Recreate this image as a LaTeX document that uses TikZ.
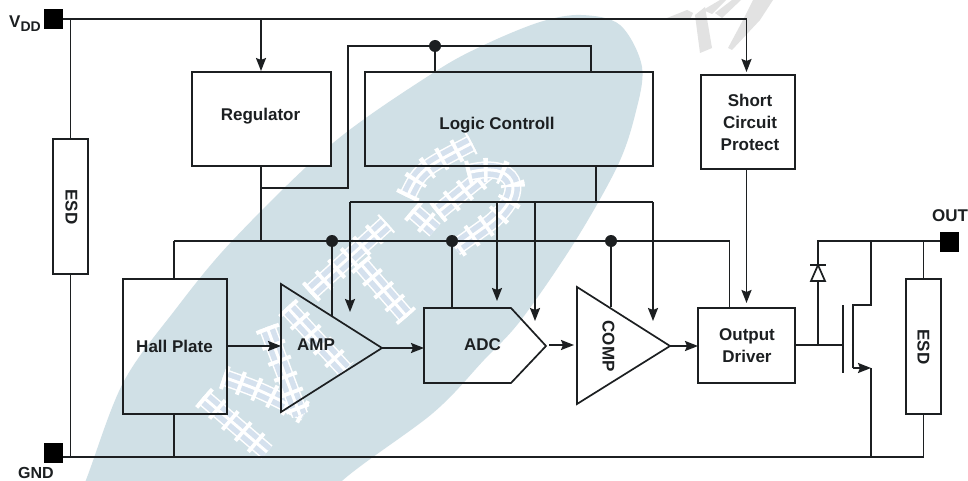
\documentclass[tikz,border=0pt]{standalone}
\usepackage{fontspec}
\setmainfont{Liberation Sans}
\usetikzlibrary{arrows.meta}
\definecolor{ink}{HTML}{1C1F21}
\definecolor{blobc}{HTML}{D0E0E6}
\definecolor{cellc}{HTML}{D5E1EE}
\definecolor{grayw}{HTML}{E2E2E2}
\tikzset{
  wire/.style={draw=ink,line width=1.9pt},
  thin wire/.style={draw=ink,line width=1.7pt},
  arr/.style={-{Stealth[length=13pt,width=10pt,inset=2pt]}},
  boxn/.style={draw=ink,line width=1.9pt,inner sep=0pt,outer sep=0pt,rectangle},
  padn/.style={fill=black,inner sep=0pt,outer sep=0pt,minimum width=19pt,minimum height=20pt},
  txt/.style={font=\bfseries\fontsize{17}{22}\selectfont,text=ink,inner sep=0pt,align=center},
  dotn/.style={circle,fill=ink,inner sep=0pt,minimum size=12pt},
  wm/.style={line width=17pt,draw=white,
    preaction={draw=white,line width=24pt,dash pattern=on 4pt off 13pt},
    postaction={draw=cellc,line width=14pt,dash pattern=on 13pt off 4pt,dash phase=13pt},
    postaction={draw=white,line width=3pt}},
}
\begin{document}
\begin{tikzpicture}[x=1pt,y=-1pt]
\useasboundingbox (0,0) rectangle (968,481);
\fill[white] (0,0) rectangle (968,481);
\begin{scope}
\clip (0,0) rectangle (968,481);
% pale background shape
\fill[blobc] plot[smooth cycle,tension=.55] coordinates {
 (60,545) (86,480) (123,383) (175,310) (233,240) (333,143) (433,73) (484,45)
 (540,22) (581,15) (620,25) (642,67) (635,115) (617,167) (574,243) (521,320)
 (484,360) (433,413) (343,480) (280,545)};
% watermark strokes
\draw[wm] (203,397) -- (267,452);
\draw[wm] (223,377) .. controls (260,390) .. (305,413);
\draw[wm] (267,327) -- (300,415);
\draw[wm] (287,307) -- (345,370);
\draw[wm] (310,293) -- (387,223);
\draw[wm] (360,263) -- (407,317);
\draw[wm] (407,197) .. controls (420,170) .. (472,143);
\draw[wm] (412,210) -- (435,230);
\draw[wm] (437,213) -- (490,170);
\draw[wm] (467,173) .. controls (515,160) and (530,190) .. (490,223) -- (455,248);
% grey watermark
\fill[grayw] (667,18) -- (687,10) -- (693,13) -- (690,20) -- cycle;
\fill[grayw] (695,15) -- (705,7) -- (712,48) -- (700,53) -- cycle;
\fill[grayw] (703,10) -- (720,0) -- (726,0) -- (712,14) -- cycle;
\fill[grayw] (715,13) -- (732,0) -- (741,0) -- (722,18) -- cycle;
\fill[grayw] (728,48) -- (743,20) -- (753,0) -- (773,0) -- (760,20) -- (732,50) -- cycle;
\end{scope}
% blocks
\node[boxn,fill=white,minimum width=139pt,minimum height=94pt] (reg) at (261.5,119) {};
\node[boxn,minimum width=288pt,minimum height=94pt] (logic) at (509,119) {};
\node[boxn,fill=white,minimum width=94pt,minimum height=94pt] (short) at (748,122) {};
\node[boxn,minimum width=104pt,minimum height=135pt] (hall) at (175,346.5) {};
\node[boxn,fill=white,minimum width=97pt,minimum height=75pt] (drv) at (746.5,345.5) {};
\node[boxn,fill=white,minimum width=35pt,minimum height=135pt] (esdl) at (70.5,206.5) {};
\node[boxn,fill=white,minimum width=35pt,minimum height=135pt] (esdr) at (923.5,346.5) {};
\node[padn] (vdd) at (53.5,19) {};
\node[padn] (gnd) at (53.5,453) {};
\node[padn] (out) at (949,242) {};
% triangles and ADC
\coordinate (ampA) at (281,284); \coordinate (ampB) at (281,412); \coordinate (ampC) at (382,348);
\coordinate (compA) at (577,287); \coordinate (compB) at (577,404); \coordinate (compC) at (670,346);
\coordinate (adcA) at (424,308); \coordinate (adcB) at (511,308); \coordinate (adcC) at (546,346);
\coordinate (adcD) at (511,383); \coordinate (adcE) at (424,383);
\draw[thin wire,line join=miter] (ampA) -- (ampB) -- (ampC) -- cycle;
\draw[thin wire] (compA) -- (compB) -- (compC) -- cycle;
\draw[thin wire] (adcA) -- (adcB) -- (adcC) -- (adcD) -- (adcE) -- cycle;
% junctions
\node[dotn] (d1) at (435,46) {};
\node[dotn] (d2) at (332,241) {};
\node[dotn] (d3) at (452,241) {};
\node[dotn] (d4) at (611,241) {};
\coordinate (vddT) at (204,19);
\coordinate (topR) at (261,19);
\coordinate (topE) at (746.5,19);
\coordinate (shIn) at (746.5,72);
\coordinate (shOut) at (746.5,169);
\coordinate (drvIn) at (746.5,303);
\coordinate (regIn) at (261,71);
\coordinate (regOut) at (261,166);
\coordinate (regJ) at (261,188);
\coordinate (busR) at (261,241);
\coordinate (fbA) at (348,188);
\coordinate (fbB) at (348,46);
\coordinate (fbC) at (591,46);
\coordinate (fbD) at (591,72);
\coordinate (lgIn) at (435,72);
\coordinate (lgOut) at (596,166);
\coordinate (ctlJ) at (596,202);
\coordinate (ctlL) at (350,202);
\coordinate (ctlR) at (653,202);
\coordinate (ctlA) at (350,312);
\coordinate (ctlBt) at (497,202);
\coordinate (ctlB) at (497,301);
\coordinate (ctlCt) at (535,202);
\coordinate (ctlC) at (535,321);
\coordinate (ctlD) at (653,321);
\coordinate (busL) at (174,241);
\coordinate (busE) at (729.5,241);
\coordinate (busD) at (729.5,308);
\coordinate (hallT) at (174,279);
\coordinate (hallB) at (174,414);
\coordinate (hallG) at (174,457);
\coordinate (ampP) at (332,316);
\coordinate (adcP) at (452,308);
\coordinate (compP) at (611,307);
\coordinate (hallO) at (227,346);
\coordinate (ampI) at (281,346);
\coordinate (adcI) at (424,348);
\coordinate (a2cA) at (549,345);
\coordinate (a2cB) at (574,345);
\coordinate (cmpI) at (698,346);
\coordinate (gVdd) at (70.5,19);
\coordinate (gGnd) at (70.5,457);
\coordinate (gndE) at (923.5,457);
\coordinate (gateL) at (795,345);
\coordinate (gateR) at (843,345);
\coordinate (gateT) at (843,305);
\coordinate (gateB) at (843,373);
\coordinate (chT) at (853,305);
\coordinate (chB) at (853,368);
\coordinate (drn) at (871,305);
\coordinate (srcT) at (871,368);
\coordinate (srcG) at (871,457);
\coordinate (drnT) at (871,241);
\coordinate (dioJ) at (818,345);
\coordinate (dioB) at (818,281);
\coordinate (dioA) at (818,265);
\coordinate (dioT) at (818,241);
\coordinate (outT) at (923.5,241);
% power lines
\draw[wire,line width=2.4pt] (vdd.east |- gVdd) -- (vddT);
\draw[thin wire] (vddT) -- (topE);
\draw[thin wire,arr] (topE) -- (shIn);
\draw[wire,arr] (topR) -- (regIn);
\draw[thin wire] (gVdd) -- (esdl.north);
\draw[thin wire] (esdl.south) -- (gGnd);
\draw[wire] (gnd.east |- gGnd) -- (gndE);
% regulator and logic
\draw[wire] (regOut) -- (busR);
\draw[wire,line join=miter] (regJ) -- (fbA) -- (fbB) -- (fbC) -- (fbD);
\draw[wire] (d1) -- (lgIn);
\draw[wire] (lgOut) -- (ctlJ);
\draw[wire] (ctlL) -- (ctlR);
\draw[wire,arr] (ctlL) -- (ctlA);
\draw[wire,arr] (ctlBt) -- (ctlB);
\draw[wire,arr] (ctlCt) -- (ctlC);
\draw[wire,arr] (ctlR) -- (ctlD);
% bias bus
\draw[wire] (busL) -- (busE) -- (busD);
\draw[wire] (busL) -- (hallT);
\draw[wire] (hallB) -- (hallG);
\draw[wire] (d2) -- (ampP);
\draw[thin wire] (d3) -- (adcP);
\draw[thin wire] (d4) -- (compP);
% signal path
\draw[wire,arr] (hallO) -- (ampI);
\draw[wire,arr] (ampC) -- (adcI);
\draw[wire,arr] (a2cA) -- (a2cB);
\draw[wire,arr] (compC) -- (cmpI);
\draw[wire,arr] (shOut) -- (drvIn);
% output stage
\draw[wire] (gateL) -- (gateR);
\draw[thin wire] (gateT) -- (gateB);
\draw[wire] (dioJ) -- (dioB);
\draw[thin wire,fill=white] (dioA) -- ([xshift=7pt]dioB) -- ([xshift=-7pt]dioB) -- cycle;
\draw[thin wire] ([xshift=-8pt]dioA) -- ([xshift=8pt]dioA);
\draw[wire] (dioA) -- (dioT) -- (out.west |- dioT);
\draw[wire,line join=miter] (drnT) -- (drn) -- (chT) -- (chB);
\draw[wire,arr] (chB) -- (srcT);
\draw[thin wire] (srcT) -- (srcG);
\draw[thin wire] (outT) -- (esdr.north);
\draw[thin wire] (esdr.south) -- (gndE);
% labels
\node[txt] (tReg) at (260.5,116) {Regulator};
\node[txt] (tLog) at (497,125.5) {Logic Controll};
\node[txt] (tSh) at (750,122) {Short\\Circuit\\Protect};
\node[txt] (tHall) at (174.5,346) {Hall Plate};
\node[txt] (tAmp) at (316,344.5) {AMP};
\node[txt] (tAdc) at (482.5,345) {ADC};
\node[txt,rotate=-90] (tComp) at (608.5,346) {COMP};
\node[txt] (tDrv) at (747,345.5) {Output\\Driver};
\node[txt,rotate=-90] (tE1) at (71.5,207) {ESD};
\node[txt,rotate=-90] (tE2) at (923.5,347) {ESD};
\node[txt] (tOut) at (950,216) {OUT};
\node[txt,font=\bfseries\fontsize{16}{20}\selectfont] (tGnd) at (36,473) {GND};
\node[txt,anchor=west] (tVdd) at (9,24) {V\raisebox{-4pt}{\fontsize{14}{16}\selectfont DD}};
\end{tikzpicture}
\end{document}
